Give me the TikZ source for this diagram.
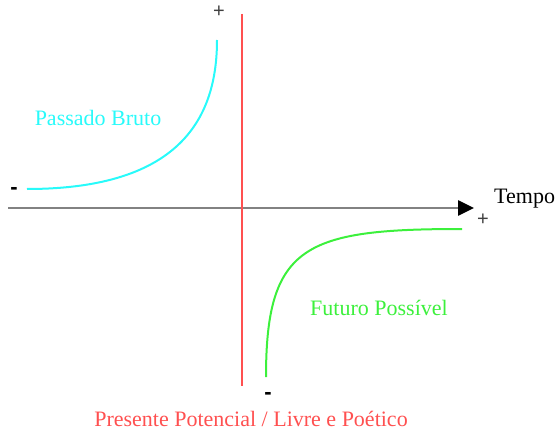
\documentclass[tikz,border=0pt]{standalone}
\usepackage{fontspec}
\setmainfont{Liberation Serif}
\newfontfamily\signfont{Liberation Sans}
\usetikzlibrary{arrows.meta}
\definecolor{pastcol}{RGB}{40,250,250}
\definecolor{futcol}{RGB}{60,240,60}
\definecolor{prescol}{RGB}{255,80,80}
\definecolor{axiscol}{RGB}{130,130,130}
\tikzset{
  lbl/.style={font=\fontsize{22}{25}\selectfont, inner sep=0pt},
  plussign/.style={font=\signfont\fontsize{20}{22}\selectfont, inner sep=0pt, text=black!75},
  minussign/.style={font=\signfont\bfseries\fontsize{22}{24}\selectfont, inner sep=0pt},
  curve/.style={line width=2pt},
  axisline/.style={axiscol, line width=2.6pt, -{Triangle[length=16pt,width=15pt,color=black]}},
}
\begin{document}
\begin{tikzpicture}[x=1pt,y=-1pt]
\useasboundingbox (0,0) rectangle (557,433);
% axis
\coordinate (axL) at (8,208);
\coordinate (axR) at (474,208);
\draw[axisline] (axL) -- (axR);
% present line
\coordinate (prT) at (242,14);
\coordinate (prB) at (242,386);
\draw[prescol, line width=1.8pt] (prT) -- (prB);
% past curve
\coordinate (paS) at (27,189);
\coordinate (paE) at (217,40);
\draw[pastcol, curve] (paS) .. controls (182,189) and (217,116) .. (paE);
% future curve
\coordinate (fuS) at (266,377);
\coordinate (fuE) at (462,229);
\draw[futcol, curve] (fuS) .. controls (266,245) and (305,229) .. (fuE);
% labels
\node[lbl, text=pastcol] (past) at (98,118) {Passado Bruto};
\node[lbl, text=futcol] (fut) at (379,308) {Futuro Possível};
\node[lbl, text=prescol, anchor=base] (pres) at (251,426) {Presente Potencial / Livre e Poético};
\node[lbl, anchor=base west] (tempo) at (494,203) {Tempo};
% signs
\node[plussign] (p1) at (219,12) {+};
\node[plussign] (p2) at (483,220) {+};
\node[minussign] (m1) at (14,191) {-};
\node[minussign] (m2) at (268,396) {-};
\end{tikzpicture}
\end{document}
